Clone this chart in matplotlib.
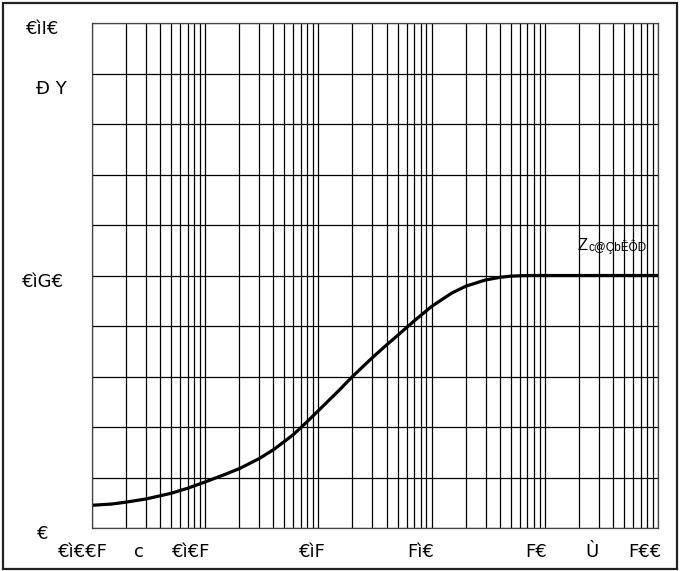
import matplotlib
matplotlib.use('Agg')
import matplotlib.pyplot as plt
from matplotlib.patches import Rectangle
from matplotlib.ticker import LogLocator, NullFormatter, MultipleLocator
import numpy as np

plt.rcParams['font.family'] = ['DejaVu Sans']

# curve
x_vals = [0.001, 0.0015, 0.002, 0.003, 0.005, 0.007, 0.01, 0.015, 0.02, 0.03,
          0.04, 0.05, 0.06, 0.07, 0.08, 0.1, 0.15, 0.2, 0.3, 0.4, 0.5, 0.7,
          1.0, 1.5, 2.0, 3.0, 4.0, 5.0, 7.0, 10.0, 100.0]
y_vals = [0.036, 0.038, 0.041, 0.046, 0.055, 0.063, 0.073, 0.085, 0.094, 0.110,
          0.124, 0.137, 0.148, 0.159, 0.169, 0.186, 0.217, 0.240, 0.270, 0.290,
          0.305, 0.328, 0.351, 0.372, 0.383, 0.393, 0.397, 0.399, 0.400, 0.400,
          0.400]

# tick labels (as they appear) and where their centres sit
x_label_pos = [0.00083, 0.0026, 0.0075, 0.089, 0.8, 8.3, 26.0, 76.0]
x_labels = ["€ì€€F", "c", "€ì€F", "€ìF", "Fì€", "F€", "Ù", "F€€"]
y_label_pos = [0.8, 0.4, 0.0]
y_labels = ["€ìI€", "€ìG€", "€"]
y_title = "Ð Y"
curve_name_big = "Z"
curve_name_small = "c@ÇbËÔD"

fig = plt.figure(figsize=(6.8, 5.71), dpi=100)
ax = fig.add_axes([0.1353, 0.0753, 0.8324, 0.8844])

ax.semilogx(x_vals, y_vals, color='black', lw=2.3, solid_joinstyle='round')
ax.set_xlim(0.001, 100)
ax.set_ylim(0, 0.8)

ax.xaxis.set_major_locator(LogLocator(base=10))
ax.xaxis.set_minor_locator(LogLocator(base=10, subs=np.arange(2, 10)))
ax.xaxis.set_major_formatter(NullFormatter())
ax.xaxis.set_minor_formatter(NullFormatter())
ax.yaxis.set_major_locator(MultipleLocator(0.08))
ax.yaxis.set_major_formatter(NullFormatter())
ax.tick_params(which='both', length=0)
ax.grid(True, which='both', color='black', lw=0.9)
for s in ax.spines.values():
    s.set_linewidth(0.9)
    s.set_color('#444444')

for xp, lab in zip(x_label_pos, x_labels):
    ax.annotate(lab, xy=(xp, 0), xycoords=('data', 'axes fraction'),
                xytext=(0, -17.5), textcoords='offset points',
                ha='center', va='center', fontsize=13)

for yp, lab in zip(y_label_pos, y_labels):
    ax.annotate(lab, xy=(0, yp), xycoords=('axes fraction', 'data'),
                xytext=(-35.5, -4.5), textcoords='offset points',
                ha='center', va='center', fontsize=13)

ax.annotate(y_title, xy=(0, 1), xycoords='axes fraction',
            xytext=(-29, -47.5), textcoords='offset points',
            ha='center', va='center', fontsize=13)

ax.annotate(curve_name_big, xy=(1, 0.4), xycoords=('axes fraction', 'data'),
            xytext=(-50.5, 21.5), textcoords='offset points',
            ha='right', va='center', fontsize=12, family='Liberation Sans')
ax.annotate(curve_name_small, xy=(1, 0.4), xycoords=('axes fraction', 'data'),
            xytext=(-8, 21), textcoords='offset points',
            ha='right', va='center', fontsize=8.5, family='Liberation Sans')

fig.patches.append(Rectangle((0.004, 0.004), 0.992, 0.99, transform=fig.transFigure,
                             fill=False, edgecolor='#222222', lw=1.6))

fig.savefig('out.png', dpi=100)
plt.close(fig)
